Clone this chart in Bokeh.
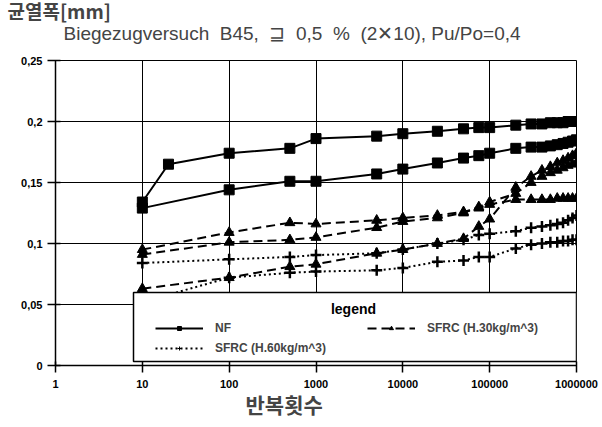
from bokeh.plotting import figure
from bokeh.models import (Range1d, FixedTicker, CustomJSTickFormatter, Legend,
                          LegendItem, Label, BoxAnnotation, Title)
from bokeh.embed import file_html
from bokeh.resources import INLINE

# ---------------- data ----------------
x_ticks = [1, 10, 100, 1000, 10000, 100000, 1000000]
y_ticks = [0, 0.05, 0.1, 0.15, 0.2, 0.25]

x_nf1 = [10, 20, 100, 500, 1000, 5000, 10000, 25000, 50000, 75000, 100000,
         200000, 300000, 400000, 500000, 600000, 700000, 800000, 900000, 1000000]
nf_1 = [0.134, 0.165, 0.174, 0.178, 0.186, 0.188, 0.190, 0.192, 0.194, 0.195, 0.195,
        0.197, 0.198, 0.198, 0.199, 0.199, 0.199, 0.200, 0.200, 0.200]

x_cycles = [10, 100, 500, 1000, 5000, 10000, 25000, 50000, 75000, 100000,
            200000, 300000, 400000, 500000, 600000, 700000, 800000, 900000, 1000000]
nf_2 = [0.129, 0.144, 0.151, 0.151, 0.157, 0.161, 0.166, 0.170, 0.172, 0.174,
        0.178, 0.179, 0.179, 0.180, 0.181, 0.182, 0.183, 0.184, 0.185]

sfrc30_a = [0.095, 0.109, 0.117, 0.116, 0.119, 0.121, 0.123, 0.126, 0.129, 0.132,
            0.136, 0.136, 0.136, 0.136, 0.137, 0.137, 0.137, 0.137, 0.137]
sfrc30_b = [0.091, 0.101, 0.103, 0.105, 0.113, 0.118, 0.121, 0.125, 0.130, 0.134,
            0.141, 0.150, 0.155, 0.158, 0.160, 0.162, 0.164, 0.165, 0.166]
sfrc30_c = [0.063, 0.072, 0.081, 0.083, 0.092, 0.095, 0.100, 0.104, 0.114, 0.120,
            0.146, 0.155, 0.160, 0.163, 0.166, 0.168, 0.170, 0.172, 0.174]

sfrc60_a = [0.084, 0.087, 0.089, 0.0905, 0.092, 0.095, 0.100, 0.103, 0.107, 0.108,
            0.110, 0.113, 0.114, 0.115, 0.116, 0.117, 0.119, 0.121, 0.123]
sfrc60_b = [0.052, 0.072, 0.076, 0.077, 0.078, 0.080, 0.085, 0.086, 0.089, 0.089,
            0.096, 0.099, 0.100, 0.101, 0.101, 0.102, 0.102, 0.103, 0.103]

labels = ["NF", "SFRC (H.30kg/m^3)", "SFRC (H.60kg/m^3)"]
legend_title = "legend"
title_main = "균열폭[mm]"
title_sub = ("Biegezugversuch\u00a0 B45,\u00a0 ⊒\u00a0 0,5\u00a0 %\u00a0"
             " (2✕10), Pu/Po=0,4")
x_title = "반복횟수"

# ---------------- figure ----------------
p = figure(width=602, height=427, x_axis_type="log",
           x_range=Range1d(1, 1000000), y_range=Range1d(0, 0.25),
           output_backend="svg", toolbar_location=None,
           min_border_left=55, min_border_right=26,
           min_border_top=60, min_border_bottom=62,
           background_fill_color="white", border_fill_color="white")

p.outline_line_color = "black"
p.outline_line_width = 1

# main title (outermost)
p.title.text = title_main
p.title.text_font = "Noto Sans CJK KR"
p.title.text_font_size = "19px"
p.title.text_font_style = "bold"
p.title.align = "left"
p.title.offset = -48
p.title.standoff = -39

# subtitle (closest to the frame)
p.add_layout(Title(text=title_sub, text_font="Liberation Sans",
                   text_font_size="19px", text_font_style="normal",
                   align="left", offset=8, standoff=33), "above")

# x axis title
p.add_layout(Title(text=x_title, text_font="Noto Sans CJK KR",
                   text_font_size="21px", text_font_style="bold",
                   align="left", offset=190, standoff=-8), "below")

# axes
p.xaxis.ticker = FixedTicker(ticks=x_ticks)
p.xaxis.formatter = CustomJSTickFormatter(code="return tick.toFixed(0);")
p.yaxis.ticker = FixedTicker(ticks=y_ticks)
p.yaxis.formatter = CustomJSTickFormatter(
    code="return tick === 0 ? '0' : tick.toString().replace('.', ',');")
for ax in (p.xaxis[0], p.yaxis[0]):
    ax.axis_line_color = "black"
    ax.axis_line_width = 1.5
    ax.major_tick_line_color = "black"
    ax.major_tick_line_width = 1.5
    ax.minor_tick_line_color = None
    ax.major_label_text_font = "Liberation Sans"
    ax.major_label_text_font_size = "11px"
    ax.major_label_text_font_style = "bold"
    ax.major_label_text_color = "black"
p.xaxis.major_tick_in = 4
p.xaxis.major_tick_out = 7
p.xaxis.major_label_standoff = 7
p.yaxis.major_tick_in = 5
p.yaxis.major_tick_out = 8
p.yaxis.major_label_standoff = 5

p.xgrid.grid_line_color = "black"
p.xgrid.grid_line_width = 1
p.xgrid.grid_line_alpha = 1
p.ygrid.grid_line_color = "black"
p.ygrid.grid_line_width = 1
p.ygrid.grid_line_alpha = 1

# ---------------- series ----------------
# NF: solid line, squares
nf_line = p.line(x_nf1, nf_1, line_color="black", line_width=2)
p.scatter(x_nf1, nf_1, marker="square", size=10, color="black")
p.line(x_cycles, nf_2, line_color="black", line_width=2)
p.scatter(x_cycles, nf_2, marker="square", size=10, color="black")
nf_small = p.scatter(x_nf1, nf_1, marker="square", size=4, color="black")

# SFRC H.30: dashed, triangles
l30 = []
for ys in (sfrc30_a, sfrc30_b, sfrc30_c):
    l30.append(p.line(x_cycles, ys, line_color="black", line_width=2,
                      line_dash="9 5"))
    p.scatter(x_cycles, ys, marker="triangle", size=10, color="black")
s30_small = p.scatter(x_cycles, sfrc30_a, marker="triangle", size=4, color="black")

# SFRC H.60: dotted, plus
l60 = []
for ys in (sfrc60_a, sfrc60_b):
    l60.append(p.line(x_cycles, ys, line_color="black", line_width=2,
                      line_dash="2 3"))
    p.scatter(x_cycles, ys, marker="cross", size=11, line_color="black",
              line_width=2.5)
s60_small = p.scatter(x_cycles, sfrc60_a, marker="cross", size=4,
                      line_color="black", line_width=1)

# legend box (drawn first, below the legend entries)
box = BoxAnnotation(left=78, right=521, bottom=4, top=73,
                    left_units="screen", right_units="screen",
                    bottom_units="screen", top_units="screen",
                    fill_color="white", fill_alpha=1,
                    line_color="black", line_width=1.5, line_alpha=1)
p.add_layout(box)

legend = Legend(items=[LegendItem(label=labels[0], renderers=[nf_line, nf_small]),
                       LegendItem(label=labels[2], renderers=[l60[0], s60_small]),
                       LegendItem(label=labels[1], renderers=[l30[0], s30_small])],
                location=(100, 8), ncols=2, orientation="vertical",
                label_text_font="Liberation Sans", label_text_font_size="12px",
                label_text_font_style="bold",
                glyph_width=48, glyph_height=10, label_height=18,
                label_width=150, label_standoff=12, spacing=2, padding=0,
                margin=0, border_line_color=None,
                background_fill_alpha=0)
p.add_layout(legend, "center")

p.add_layout(Label(x=298, y=57, x_units="screen", y_units="screen",
                   text=legend_title, text_align="center",
                   text_baseline="middle", text_font="Liberation Sans",
                   text_font_size="14px", text_font_style="bold",
                   text_color="black"))

open("out.html", "w").write(file_html(p, INLINE))
